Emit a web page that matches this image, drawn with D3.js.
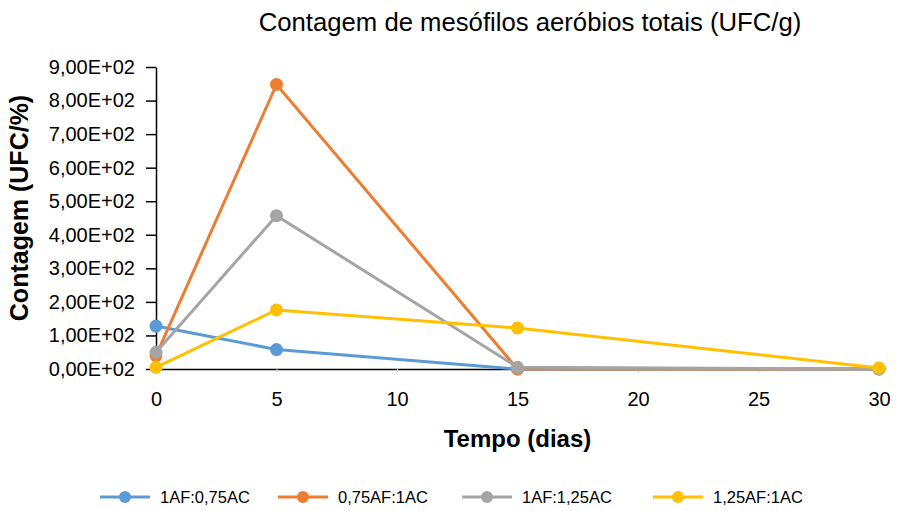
<!DOCTYPE html>
<html>
<head>
<meta charset="utf-8">
<script src="https://cdn.jsdelivr.net/npm/d3@7"></script>
<style>
  body { margin: 0; background: #fff; }
  svg { font-family: "Liberation Sans", Arial, sans-serif; }
  .axis text { fill: #000; }
</style>
</head>
<body>
<svg width="900" height="511"></svg>
<script>
// dias de armazenamento
var days = [0, 5, 15, 30];
var seriesNames = ["1AF:0,75AC", "0,75AF:1AC", "1AF:1,25AC", "1,25AF:1AC"];
var seriesColors = ["#5B9BD5", "#ED7D31", "#A5A5A5", "#FFC000"];
var blueValues = [128, 58, 0, 0];
var orangeValues = [40, 848, 0, 0];
var grayValues = [50, 457, 5, 0];
var yellowValues = [5, 176, 122, 3];
var yTicks = [0, 100, 200, 300, 400, 500, 600, 700, 800, 900];
var xTicks = [0, 5, 10, 15, 20, 25, 30];

var allValues = [blueValues, orangeValues, grayValues, yellowValues];

var margin = { top: 67, right: 21, bottom: 142, left: 156 };
var width = 900 - margin.left - margin.right;
var height = 511 - margin.top - margin.bottom;

var svg = d3.select("svg");
var g = svg.append("g")
    .attr("transform", "translate(" + margin.left + "," + margin.top + ")");

var x = d3.scaleLinear().domain([0, 30]).range([0, width]);
var y = d3.scaleLinear().domain([0, 900]).range([height, 0]);

function fmt(v) {
    return (v / 100).toFixed(2).replace(".", ",") + "E+02";
}

// eixo x
var xAxis = g.append("g")
    .attr("class", "axis")
    .attr("transform", "translate(0," + height + ")")
    .call(d3.axisBottom(x).tickValues(xTicks).tickSize(4).tickPadding(19));
xAxis.select(".domain").attr("stroke", "#000").attr("stroke-width", 1.5);
xAxis.selectAll(".tick line").attr("stroke", "#d9d9d9");
xAxis.selectAll("text").style("font-size", "20px");

// eixo y
var yAxis = g.append("g")
    .attr("class", "axis")
    .call(d3.axisLeft(y).tickValues(yTicks).tickFormat(fmt).tickSize(10).tickPadding(11).tickSizeOuter(0));
yAxis.select(".domain").attr("stroke", "#000").attr("stroke-width", 1.5);
yAxis.selectAll(".tick line").attr("stroke", "#000").attr("stroke-width", 1.5);
yAxis.selectAll("text").style("font-size", "20px");

// linhas
var line = d3.line()
    .x(function (d, i) { return x(days[i]); })
    .y(function (d) { return y(d); });

allValues.forEach(function (vals, s) {
    g.append("path")
        .datum(vals)
        .attr("fill", "none")
        .attr("stroke", seriesColors[s])
        .attr("stroke-width", 3)
        .attr("d", line);
    g.selectAll(".pt" + s)
        .data(vals)
        .enter().append("circle")
        .attr("cx", function (d, i) { return x(days[i]); })
        .attr("cy", function (d) { return y(d); })
        .attr("r", 6.5)
        .attr("fill", seriesColors[s]);
});

// títulos
svg.append("text")
    .attr("x", 530).attr("y", 31)
    .attr("text-anchor", "middle")
    .style("font-size", "25.7px")
    .text("Contagem de mesófilos aeróbios totais (UFC/g)");

svg.append("text")
    .attr("x", margin.left + x(15)).attr("y", 447)
    .attr("text-anchor", "middle")
    .style("font-size", "24px")
    .style("font-weight", "bold")
    .text("Tempo (dias)");

svg.append("text")
    .attr("transform", "translate(28," + (margin.top + 141) + ") rotate(-90)")
    .attr("text-anchor", "middle")
    .style("font-size", "25px")
    .style("font-weight", "bold")
    .text("Contagem (UFC/%)");

// legenda
var legendX = [100, 278, 462, 653];
var legend = svg.append("g").attr("transform", "translate(0,497)");
seriesNames.forEach(function (name, s) {
    var lg = legend.append("g").attr("transform", "translate(" + legendX[s] + ",0)");
    lg.append("line").attr("x1", 0).attr("x2", 50).attr("y1", 0).attr("y2", 0)
        .attr("stroke", seriesColors[s]).attr("stroke-width", 3);
    lg.append("circle").attr("cx", 25).attr("cy", 0).attr("r", 6).attr("fill", seriesColors[s]);
    lg.append("text").attr("x", 60).attr("y", 6)
        .style("font-size", "16.5px")
        .text(name);
});
</script>
</body>
</html>
